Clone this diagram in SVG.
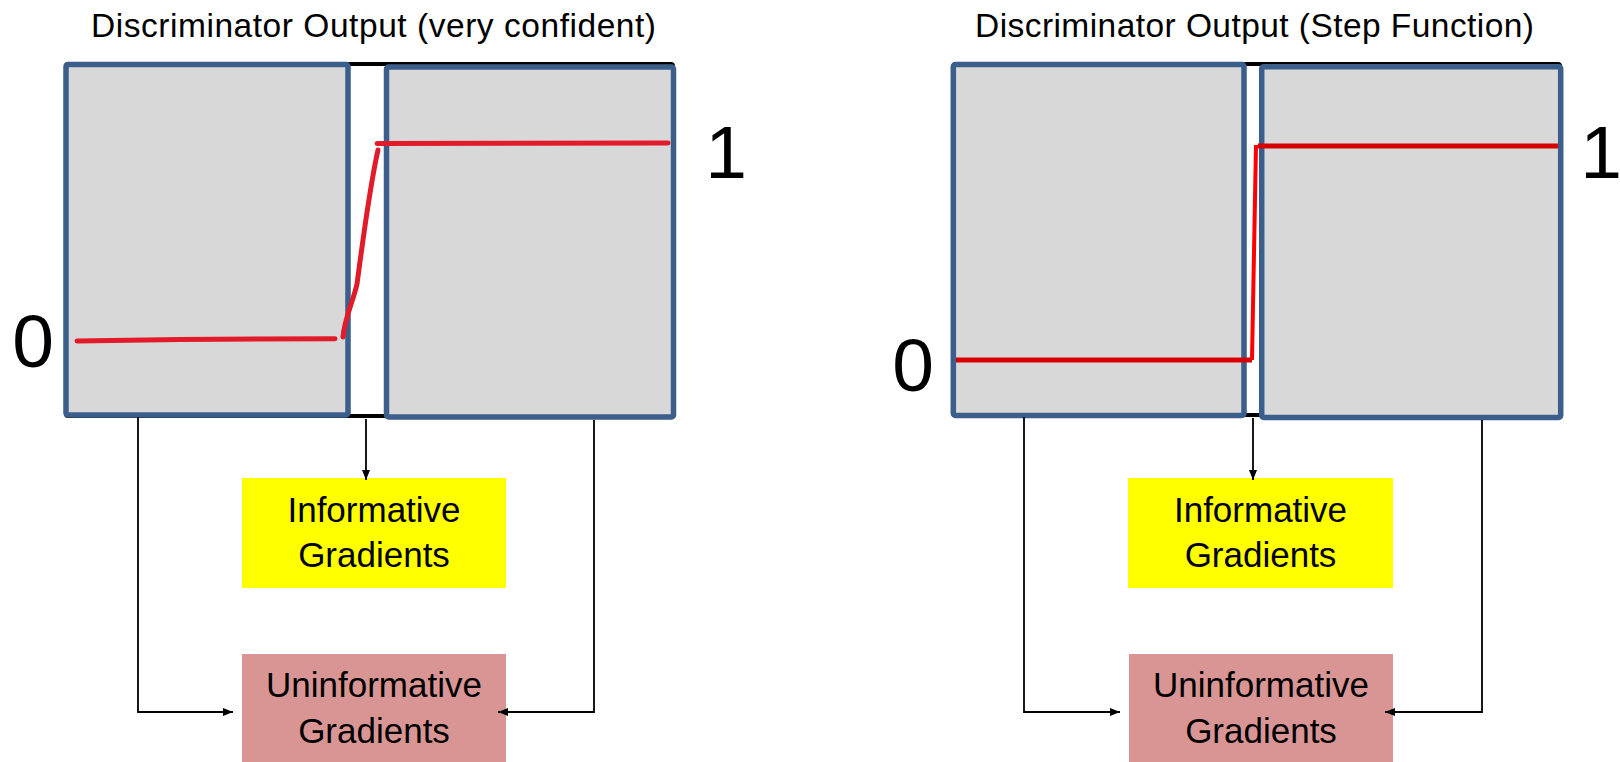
<svg xmlns="http://www.w3.org/2000/svg" width="1620" height="762" viewBox="0 0 1620 762">
  <style>
    .title { font-family: "Liberation Sans", Arial, sans-serif; font-size: 33.5px; fill: #000; }
    .digit { font-family: "Liberation Sans", Arial, sans-serif; font-size: 75px; fill: #000; text-anchor: middle; }
    .label { font-family: "Liberation Sans", Arial, sans-serif; font-size: 35px; fill: #000; text-anchor: middle; }
    .frame { fill: #fff; stroke: #000; stroke-width: 4; }
    .region { fill: #d8d8d8; stroke: #3b5e8b; stroke-width: 5.5; stroke-linejoin: round; }
    .info { fill: #ffff00; }
    .uninfo { fill: #d99594; }
    .conn { fill: none; stroke: #000; stroke-width: 1.8; }
    .sketch { fill: none; stroke: #e11b2a; stroke-width: 5; stroke-linecap: round; stroke-linejoin: round; }
    .stepline { fill: none; stroke: #d70000; stroke-width: 5; }
    .steprise { fill: none; stroke: #ff0000; stroke-width: 4; }
  </style>
  <defs>
    <marker id="arrow" viewBox="0 0 10 8" refX="10" refY="4" markerWidth="10" markerHeight="8" markerUnits="userSpaceOnUse" orient="auto">
      <path d="M0,0 L10,4 L0,8 Z" fill="#000"/>
    </marker>
  </defs>

  <rect width="1620" height="762" fill="#fff"/>

  <!-- Panel A: a confident discriminator -->
  <g id="panel-a">
    <text class="title" x="91" y="37" textLength="565" lengthAdjust="spacing">Discriminator Output (very confident)</text>
    <rect class="frame" x="66" y="64" width="607" height="352" rx="2"/>
    <g id="a-fake-region"><rect class="region" x="66" y="64.5" width="282" height="350.5" rx="2"/></g>
    <g id="a-real-region"><rect class="region" x="386.5" y="67" width="287" height="350" rx="2"/></g>
    <text class="digit" x="33" y="367">0</text>
    <text class="digit" x="726" y="178">1</text>
    <g id="a-curve">
      <path class="sketch" d="M77,341 L180,339.5 L335,338.7"/>
      <path class="sketch" d="M343,337 C344,320 353,302 357,284 C361,255 369,190 378,150"/>
      <path class="sketch" d="M377,143.5 L668,143"/>
    </g>
    <g id="a-informative">
      <rect class="info" x="242" y="478" width="264" height="110"/>
      <text class="label" x="374" y="522">Informative</text>
      <text class="label" x="374" y="567">Gradients</text>
    </g>
    <g id="a-uninformative">
      <rect class="uninfo" x="242" y="654" width="264" height="108"/>
      <text class="label" x="374" y="697">Uninformative</text>
      <text class="label" x="374" y="743">Gradients</text>
    </g>
    <g id="a-connectors">
      <path class="conn" d="M138,417 V712 H233" marker-end="url(#arrow)"/>
      <path class="conn" d="M366,419 V480" marker-end="url(#arrow)"/>
      <path class="conn" d="M594,420 V712 H498" marker-end="url(#arrow)"/>
    </g>
  </g>

  <!-- Panel B: a step-function discriminator -->
  <g id="panel-b">
    <text class="title" x="975" y="37" textLength="559" lengthAdjust="spacing">Discriminator Output (Step Function)</text>
    <rect class="frame" x="954" y="64" width="606" height="351" rx="2"/>
    <g id="b-fake-region"><rect class="region" x="953.3" y="64.5" width="290.7" height="351" rx="2"/></g>
    <g id="b-real-region"><rect class="region" x="1261.7" y="66.7" width="299" height="350.8" rx="2"/></g>
    <text class="digit" x="913" y="391">0</text>
    <text class="digit" x="1601" y="178">1</text>
    <g id="b-curve">
      <path class="stepline" d="M956,360 L1252,360"/>
      <path class="steprise" d="M1252,360 L1256,145"/>
      <path class="stepline" d="M1258,146 L1558,146"/>
    </g>
    <g id="b-informative">
      <rect class="info" x="1128" y="478" width="265" height="110"/>
      <text class="label" x="1260.5" y="522">Informative</text>
      <text class="label" x="1260.5" y="567">Gradients</text>
    </g>
    <g id="b-uninformative">
      <rect class="uninfo" x="1129" y="654" width="264" height="108"/>
      <text class="label" x="1261" y="697">Uninformative</text>
      <text class="label" x="1261" y="743">Gradients</text>
    </g>
    <g id="b-connectors">
      <path class="conn" d="M1024,417 V712 H1120" marker-end="url(#arrow)"/>
      <path class="conn" d="M1253,418 V480" marker-end="url(#arrow)"/>
      <path class="conn" d="M1482,420 V712 H1385" marker-end="url(#arrow)"/>
    </g>
  </g>
</svg>
